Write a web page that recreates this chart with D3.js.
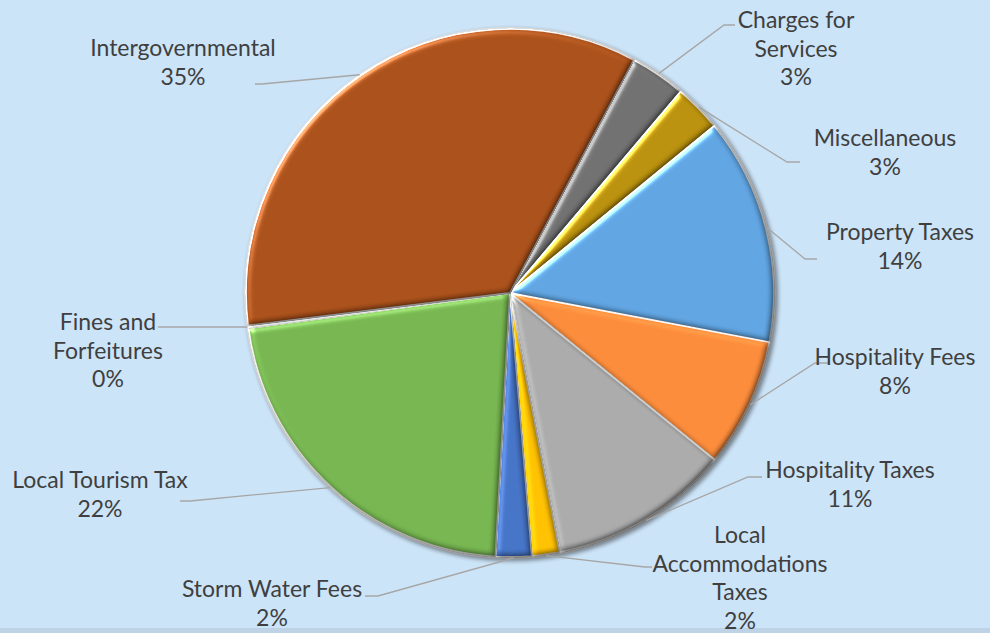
<!DOCTYPE html>
<html>
<head>
<meta charset="utf-8">
<script src="https://cdn.jsdelivr.net/npm/d3@7"></script>
<style>
  html, body { margin: 0; padding: 0; background: #cce4f8; }
  svg { display: block; }
  .lbl { font-family: Lato, "Open Sans", sans-serif; font-size: 23px; fill: #3f3f3f; }
</style>
</head>
<body>
<script>
// chart data
var categories = ["Charges for Services", "Miscellaneous", "Property Taxes", "Hospitality Fees",
                  "Hospitality Taxes", "Local Accommodations Taxes", "Storm Water Fees",
                  "Local Tourism Tax", "Fines and Forfeitures", "Intergovernmental"];
var values = [3.4, 2.9, 13.9, 7.9, 11.1, 1.7, 2.2, 22.0, 0.15, 34.75];
var colors = ["#6f6f6f", "#b8900d", "#5fa3e0", "#f98a3a", "#a9a9a9",
              "#ffc000", "#4472c4", "#75b44f", "#e4e4e4", "#a9501a"];
// how each label is broken into lines
var labelLines = [["Charges for", "Services"], ["Miscellaneous"], ["Property Taxes"], ["Hospitality Fees"],
                  ["Hospitality Taxes"], ["Local", "Accommodations", "Taxes"], ["Storm Water Fees"],
                  ["Local Tourism Tax"], ["Fines and", "Forfeitures"], ["Intergovernmental"]];

// layout
var width = 990, height = 633;
var cx = 510, cy = 293, radius = 264;
var startDeg = 28;
// label block centre x, first line middle y, leader elbow and end
var labelX = [796, 885, 900, 895, 850, 740, 272, 100, 108, 183];
var labelY = [20, 138, 232, 357, 470, 535, 589, 480, 322, 48];
var elbow = [[724, 25], [787, 162], [805, 259], [815, 363], [748, 477], [645, 567], [378, 596], [190, 501], [165, 327], [262, 84]];
var leaderEnd = [[735, 25], [800, 162], [817, 259], [828, 363], [762, 477], [652, 567], [365, 596], [180, 501], [158, 327], [255, 84]];
var lineGap = 28.6;

var svg = d3.select("body").append("svg")
    .attr("width", width)
    .attr("height", height);

var defs = svg.append("defs");

// soft shadow under the pie
var shadow = defs.append("filter").attr("id", "shadow")
    .attr("color-interpolation-filters", "sRGB")
    .attr("x", "-10%").attr("y", "-10%").attr("width", "120%").attr("height", "120%");
shadow.append("feGaussianBlur").attr("in", "SourceAlpha").attr("stdDeviation", 2).attr("result", "b");
shadow.append("feOffset").attr("in", "b").attr("dx", 2).attr("dy", 2).attr("result", "o");
shadow.append("feComponentTransfer").attr("in", "o").attr("result", "s")
  .append("feFuncA").attr("type", "linear").attr("slope", 0.45);
var m = shadow.append("feMerge");
m.append("feMergeNode").attr("in", "s");
m.append("feMergeNode").attr("in", "SourceGraphic");

// rim: light at top-left, darker at bottom-right
var rimGrad = defs.append("linearGradient").attr("id", "rim")
    .attr("x1", "0%").attr("y1", "0%").attr("x2", "100%").attr("y2", "100%");
rimGrad.append("stop").attr("offset", "0%").attr("stop-color", "#f2f2f2");
rimGrad.append("stop").attr("offset", "45%").attr("stop-color", "#c8c8c8");
rimGrad.append("stop").attr("offset", "100%").attr("stop-color", "#6e6e6e");

// bevel on each slice: diffuse shading plus a specular edge
var bevel = defs.append("filter").attr("id", "bevel")
    .attr("color-interpolation-filters", "sRGB")
    .attr("x", "-5%").attr("y", "-5%").attr("width", "110%").attr("height", "110%");
bevel.append("feGaussianBlur").attr("in", "SourceAlpha").attr("stdDeviation", 3).attr("result", "blur");
bevel.append("feDiffuseLighting").attr("in", "blur").attr("surfaceScale", 3)
    .attr("diffuseConstant", 1).attr("lighting-color", "#ffffff").attr("result", "diff")
  .append("feDistantLight").attr("azimuth", 225).attr("elevation", 60);
bevel.append("feComposite").attr("in", "SourceGraphic").attr("in2", "diff").attr("operator", "arithmetic")
    .attr("k1", 1.155).attr("k2", 0).attr("k3", 0).attr("k4", 0).attr("result", "shaded");
bevel.append("feSpecularLighting").attr("in", "blur").attr("surfaceScale", 3)
    .attr("specularConstant", 0.4).attr("specularExponent", 35)
    .attr("lighting-color", "#ffffff").attr("result", "spec")
  .append("feDistantLight").attr("azimuth", 225).attr("elevation", 40);
bevel.append("feComposite").attr("in", "shaded").attr("in2", "spec").attr("operator", "arithmetic")
    .attr("k1", 0).attr("k2", 1).attr("k3", 1).attr("k4", 0).attr("result", "lit");
bevel.append("feComposite").attr("in", "lit").attr("in2", "SourceAlpha").attr("operator", "in");

// bottom band
svg.append("rect").attr("x", 0).attr("y", 628).attr("width", width).attr("height", 5)
    .attr("fill", "#bfd3e6");

var data = categories.map(function(c, i) { return { name: c, value: values[i], i: i }; });

var pie = d3.pie()
    .sort(null)
    .value(function(d) { return d.value; })
    .startAngle(startDeg * Math.PI / 180)
    .endAngle(startDeg * Math.PI / 180 + 2 * Math.PI);

var arcs = pie(data);

var arc = d3.arc().innerRadius(0).outerRadius(radius);
var edge = d3.arc().innerRadius(radius + 1).outerRadius(radius + 1);

var g = svg.append("g").attr("transform", "translate(" + cx + "," + cy + ")");

// rim behind the slices
g.append("circle").attr("r", radius + 2)
    .attr("fill", "url(#rim)")
    .attr("filter", "url(#shadow)");

g.selectAll(".slice")
    .data(arcs)
  .enter().append("path")
    .attr("class", "slice")
    .attr("d", arc)
    .attr("fill", function(d) { return colors[d.data.i]; })
    .attr("stroke", "#f4f4f4")
    .attr("stroke-width", 1.8)
    .attr("stroke-linejoin", "round")
    .attr("filter", "url(#bevel)");

// leader lines
svg.selectAll(".leader")
    .data(arcs)
  .enter().append("polyline")
    .attr("class", "leader")
    .attr("fill", "none")
    .attr("stroke", "#a6a6a6")
    .attr("stroke-width", 1.3)
    .attr("points", function(d) {
      var p = edge.centroid(d);
      var i = d.data.i;
      return [[cx + p[0], cy + p[1]], elbow[i], leaderEnd[i]].map(function(q) { return q.join(","); }).join(" ");
    });

// labels
arcs.forEach(function(d) {
  var i = d.data.i;
  var lines = labelLines[i].concat([Math.round(d.data.value) + "%"]);
  var t = svg.append("text")
      .attr("class", "lbl")
      .attr("text-anchor", "middle");
  lines.forEach(function(s, k) {
    t.append("tspan")
      .attr("x", labelX[i])
      .attr("y", labelY[i] + k * lineGap)
      .attr("dy", "0.35em")
      .text(s);
  });
});
</script>
</body>
</html>
